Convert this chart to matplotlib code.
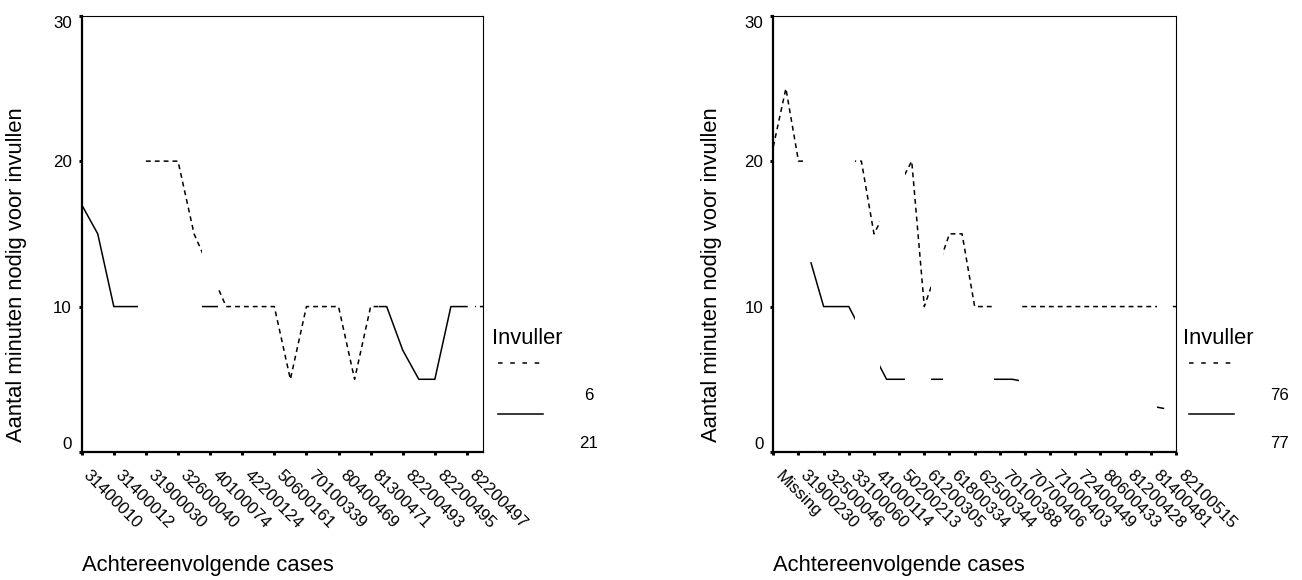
import matplotlib
matplotlib.use('Agg')
import matplotlib.pyplot as plt
from matplotlib.path import Path
from matplotlib.lines import Line2D
from matplotlib.transforms import ScaledTranslation
import numpy as np

plt.rcParams['font.family'] = ['Liberation Sans', 'DejaVu Sans']

# left chart: invullers 6 and 21
left_ids = ['31400010', '31400012', '31900030', '32600040', '40100074', '42200124',
            '50600161', '70100339', '80400469', '81300471', '82200493', '82200495',
            '82200497']
left_invuller = [21, 21, 21, 21, 6, 6, 6, 6, 21, 6, 6, 6, 6,
                 6, 6, 6, 6, 6, 6, 21, 21, 21, 21, 21, 21, 6]
left_minutes = [17, 15, 10, 10, 20, 20, 20, 15, 10, 10, 10, 10, 10,
                5, 10, 10, 10, 5, 10, 10, 7, 5, 5, 10, 10, 10]
left_series = [6, 21]

# right chart: invullers 76 and 77
right_ids = ['Missing', '31900230', '32500046', '33100060', '41000114', '50200213',
             '61200305', '61800334', '62500344', '70100388', '70700406', '71000403',
             '72400449', '80600433', '81200428', '81400481', '82100515']
right_invuller = [76, 76, 76, 77, 77, 77, 77, 76, 76, 77, 77, 76, 76, 77, 76, 76, 76,
                  76, 77, 77, 76, 76, 76, 76, 76, 76, 76, 76, 76, 76, 76, 77, 76]
right_minutes = [21, 25, 20, 13, 10, 10, 10, 20, 15, 5, 5, 20, 10, 5, 15, 15, 10,
                 10, 5, 5, 10, 10, 10, 10, 10, 10, 10, 10, 10, 10, 10, 3, 10]
right_series = [76, 77]

W, H = 1302, 580
LABEL_PT = 15.8
TICK_PT = 12.2
DASHED = dict(linestyle=(0, (3.2, 2.6)))
SOLID = dict(linestyle='-')

fig = plt.figure(figsize=(W / 100, H / 100), dpi=100)


def fx(px):
    return px / W


def fy(py):
    return 1 - py / H


def runs(mask):
    # stretches of consecutive cases that belong to one invuller
    out = []
    start = None
    for i, m in enumerate(mask, start=1):
        if m and start is None:
            start = i
        if not m and start is not None:
            out.append((start, i - 1))
            start = None
    if start is not None:
        out.append((start, len(mask)))
    return out


def panel(left, right, ids, invuller, minutes, series, leg_x, ylab_x):
    top, bottom = 15.7, 452.0
    ax = fig.add_axes([fx(left), fy(bottom), (right - left) / W, (bottom - top) / H])
    case = np.arange(1, len(minutes) + 1)
    inv = np.array(invuller)
    mins = np.array(minutes, dtype=float)

    for key, style in zip(series, [DASHED, SOLID]):
        own = inv == key
        line, = ax.plot(case[own], mins[own], color='black', lw=1.1, **style)
        # each line only shows over the cases of its own invuller
        verts, codes = [], []
        for a, b in runs(own):
            verts += [(a - 0.5, -50), (b + 0.5, -50), (b + 0.5, 80), (a - 0.5, 80), (a - 0.5, -50)]
            codes += [Path.MOVETO, Path.LINETO, Path.LINETO, Path.LINETO, Path.CLOSEPOLY]
        line.set_clip_path(Path(verts, codes), ax.transData)

    ax.set_xlim(1, len(minutes))
    ax.set_ylim(0, 30)
    ax.set_xticks(case[::2])
    ax.set_xticklabels([])
    # case ids hang diagonally below every other tick
    lab_tr = ax.get_xaxis_transform() + ScaledTranslation(9.5 / 100, -16 / 100, fig.dpi_scale_trans)
    for c, s in zip(case[::2], ids):
        ax.text(c, 0, s, transform=lab_tr, rotation=-45, ha='left', va='top',
                rotation_mode='anchor', fontsize=TICK_PT, clip_on=False)
    ax.set_yticks([0, 10, 20, 30])
    ax.set_yticklabels(['0', '10', '20', '30'], fontsize=TICK_PT)
    ylabs = ax.get_yticklabels()
    ylabs[0].set_va('bottom')
    ylabs[-1].set_va('top')
    ax.tick_params(length=2.2, width=2.2, pad=5, direction='out')
    for s in ['left', 'bottom']:
        ax.spines[s].set_linewidth(1.6)
    for s in ['top', 'right']:
        ax.spines[s].set_linewidth(0.8)

    fig.text(fx(ylab_x), fy(275), 'Aantal minuten nodig voor invullen',
             rotation=90, ha='center', va='center', fontsize=LABEL_PT)
    fig.text(fx(left), fy(566), 'Achtereenvolgende cases',
             ha='left', va='center', fontsize=LABEL_PT)

    # legend next to the plot area
    fig.text(fx(leg_x), fy(338), 'Invuller', ha='left', va='center', fontsize=LABEL_PT)
    x0, x1 = leg_x + 6, leg_x + 51
    fig.add_artist(Line2D([fx(x0), fx(x1)], [fy(363), fy(363)], transform=fig.transFigure,
                          color='black', lw=1.1, linestyle=(0, (3.0, 5.0))))
    fig.add_artist(Line2D([fx(x0), fx(x1)], [fy(414), fy(414)], transform=fig.transFigure,
                          color='black', lw=1.1))
    fig.text(fx(leg_x + 97), fy(395), str(series[0]), ha='center', va='center', fontsize=TICK_PT)
    fig.text(fx(leg_x + 97), fy(444), str(series[1]), ha='center', va='center', fontsize=TICK_PT)
    return ax


panel(81.7, 483.0, left_ids, left_invuller, left_minutes, left_series, 491.7, 17)
panel(773.3, 1176.0, right_ids, right_invuller, right_minutes, right_series, 1182.7, 712)

fig.savefig('out.png', dpi=100)
